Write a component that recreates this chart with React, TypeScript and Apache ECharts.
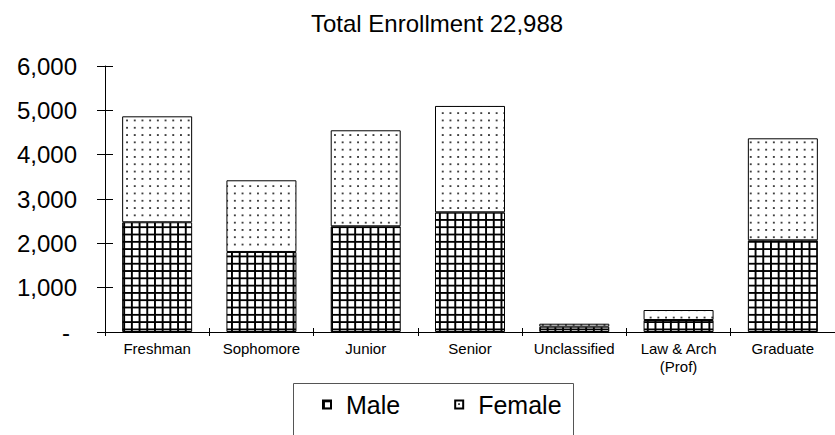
import React, { useEffect, useRef } from "react";
import * as echarts from "echarts";

const categories = ["Freshman", "Sophomore", "Junior", "Senior", "Unclassified", "Law & Arch\n(Prof)", "Graduate"];
const maleValues = [2475, 1805, 2384, 2700, 120, 270, 2068];
const femaleValues = [2390, 1617, 2166, 2399, 67, 226, 2301];
const seriesNames = ["Male", "Female"];
const titleText = "Total Enrollment 22,988";
const yTicks = [0, 1000, 2000, 3000, 4000, 5000, 6000];

const FONT = "'Liberation Sans', Arial, sans-serif";

function svgUrl(inner: string): string {
  const s =
    "<svg xmlns='http://www.w3.org/2000/svg' width='8' height='8' viewBox='0 0 8 8' preserveAspectRatio='none'>" +
    inner +
    "</svg>";
  return "data:image/svg+xml;charset=utf-8," + encodeURIComponent(s);
}

const malePattern = {
  image: svgUrl(
    "<rect width='8' height='8' fill='#ffffff'/><rect x='0' y='0' width='2' height='8' fill='#000'/><rect x='0' y='0' width='8' height='2' fill='#000'/>"
  ),
  imageWidth: 7.7,
  imageHeight: 7.3,
  repeat: "repeat",
};

const femalePattern = {
  image: svgUrl("<rect width='8' height='8' fill='#ffffff'/><rect x='3.1' y='3.1' width='1.8' height='1.8' fill='#111'/>"),
  imageWidth: 7.7,
  imageHeight: 7.3,
  repeat: "repeat",
};

export default function App() {
  const ref = useRef<HTMLDivElement>(null);
  useEffect(() => {
    if (!ref.current) return;
    const chart = echarts.init(ref.current, undefined, { renderer: "svg" });
    const yMin = yTicks[0];
    const yMax = yTicks[yTicks.length - 1];
    const yInt = yTicks[1] - yTicks[0];
    chart.setOption({
      animation: false,
      backgroundColor: "#ffffff",
      textStyle: { fontFamily: FONT },
      title: {
        text: titleText,
        left: 306,
        top: 6,
        textStyle: { fontFamily: FONT, fontSize: 24, fontWeight: "normal", color: "#000" },
      },
      grid: { left: 105, top: 66, width: 741, height: 266, containLabel: false },
      xAxis: [
        {
          type: "category",
          data: categories,
          axisLine: { lineStyle: { color: "#000", width: 1 } },
          axisTick: { show: true, length: 4, lineStyle: { color: "#000" } },
          axisLabel: { color: "#000", fontSize: 15, fontFamily: FONT, margin: 7, lineHeight: 18, interval: 0 },
        },
        {
          type: "category",
          data: categories,
          position: "bottom",
          axisLine: { show: false },
          axisTick: { show: true, inside: true, length: 4, lineStyle: { color: "#000" } },
          axisLabel: { show: false },
        },
      ],
      yAxis: [
        {
          type: "value",
          min: yMin,
          max: yMax,
          interval: yInt,
          axisLine: { show: true, lineStyle: { color: "#000", width: 1 } },
          axisTick: { show: true, length: 8, lineStyle: { color: "#000" } },
          splitLine: { show: false },
          axisLabel: {
            color: "#000",
            fontSize: 24,
            fontFamily: FONT,
            margin: 28,
            formatter: (v: number) => (v === 0 ? "{d|-}" : v.toLocaleString("en-US")),
            rich: { d: { fontSize: 24, fontFamily: FONT, color: "#000", padding: [0, 7, 0, 0] } },
          },
        },
        {
          type: "value",
          min: yMin,
          max: yMax,
          interval: yInt,
          position: "left",
          axisLine: { show: false },
          axisTick: { show: true, inside: true, length: 8, lineStyle: { color: "#000" } },
          splitLine: { show: false },
          axisLabel: { show: false },
        },
      ],
      legend: {
        data: seriesNames,
        left: 317,
        top: 387,
        icon: "rect",
        itemWidth: 8,
        itemHeight: 8,
        itemGap: 54,
        textStyle: { fontSize: 25, fontFamily: FONT, color: "#000", padding: [0, 0, 0, 10] },
      },
      graphic: [
        {
          type: "rect",
          left: 291,
          top: 381,
          shape: { width: 280, height: 70 },
          style: { fill: "none", stroke: "#555", lineWidth: 1 },
          z: 0,
        },
      ],
      series: [
        {
          name: seriesNames[0],
          type: "bar",
          stack: "total",
          barWidth: 70,
          data: maleValues,
          itemStyle: { color: malePattern, borderColor: "#000", borderWidth: 1 },
        },
        {
          name: seriesNames[1],
          type: "bar",
          stack: "total",
          barWidth: 70,
          data: femaleValues,
          itemStyle: { color: femalePattern, borderColor: "#000", borderWidth: 1 },
        },
      ],
    });
    return () => chart.dispose();
  }, []);
  return <div ref={ref} style={{ position: "fixed", left: 0, top: 0, width: 835, height: 435 }} />;
}
